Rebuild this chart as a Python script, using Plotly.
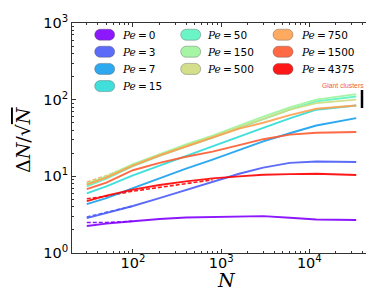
import numpy as np
import plotly.graph_objects as go

# ---------------- data ----------------
N = [30, 50, 100, 200, 400, 800, 1600, 3000, 6000, 12000, 34000]

pe_labels = ["0", "3", "7", "15", "50", "150", "500", "750", "1500", "4375"]
colors = ["#8000ff", "#4b5cf8", "#18a0ee", "#2ddcd8", "#5cf5c0",
          "#9cf59c", "#d0dc80", "#ffa050", "#ff5a30", "#ff0000"]

pe0 = [2.25, 2.42, 2.6, 2.78, 2.9, 2.96, 3.0, 3.03, 2.88, 2.74, 2.69]
pe3 = [2.85, 3.3, 4.1, 5.2, 6.6, 8.4, 10.8, 13.0, 15.0, 15.6, 15.4]
pe7 = [4.35, 5.2, 7.0, 9.5, 12.6, 16.5, 22.0, 28.5, 36.5, 46.0, 57.5]
pe15 = [6.0, 7.4, 10.3, 13.8, 18.5, 25.0, 33.0, 43.0, 57.0, 74.0, 84.0]
pe50 = [7.4, 9.3, 13.6, 18.5, 24.5, 32.0, 43.0, 56.0, 74.0, 95.0, 110.0]
pe150 = [8.0, 10.0, 14.4, 19.5, 26.0, 34.0, 46.0, 60.0, 79.0, 100.0, 118.0]
pe500 = [7.8, 9.7, 14.0, 19.0, 25.0, 33.0, 44.0, 57.0, 74.0, 90.0, 100.0]
pe750 = [7.8, 9.6, 13.8, 18.7, 24.5, 32.0, 42.0, 50.0, 63.0, 76.0, 84.0]
pe1500 = [6.8, 8.3, 12.0, 15.0, 18.0, 21.0, 25.5, 30.5, 35.0, 37.0, 37.8]
pe4375 = [4.75, 5.6, 6.7, 7.7, 8.6, 9.4, 10.0, 10.5, 10.7, 10.8, 10.4]
series = [pe0, pe3, pe7, pe15, pe50, pe150, pe500, pe750, pe1500, pe4375]

# short dashed runs (second data set at small N)
dash_N_short = [30, 50, 100]
dash_pe0 = [2.5, 2.5, 2.6]
dash_pe3 = [2.95, 3.4, 4.1]
dash_pe750 = [8.4, 10.2, 14.0]
dash_N_long = [30, 50, 100, 200, 400, 800]
dash_pe4375 = [5.1, 5.5, 6.4, 7.2, 8.0, 9.0]

x_ticks = [100, 1000, 10000]
x_ticktext = ["10<sup>2</sup>", "10<sup>3</sup>", "10<sup>4</sup>"]
y_ticks = [1, 10, 100, 1000]
y_ticktext = ["10<sup>0</sup>", "10<sup>1</sup>", "10<sup>2</sup>", "10<sup>3</sup>"]

# ---------------- figure ----------------
fig = go.Figure()

dashed = [(dash_N_short, dash_pe0, 0), (dash_N_short, dash_pe3, 1),
          (dash_N_short, dash_pe750, 7), (dash_N_long, dash_pe4375, 9)]
for xs, ys, ci in dashed:
    fig.add_trace(go.Scatter(x=xs, y=ys, mode="lines",
                             line=dict(color=colors[ci], width=1.6, dash="4px,2px"),
                             opacity=0.9, showlegend=False, hoverinfo="skip"))

for vals, col, lab in zip(series, colors, pe_labels):
    fig.add_trace(go.Scatter(x=N, y=vals, mode="lines", name="Pe=" + lab,
                             line=dict(color=col, width=1.9),
                             opacity=0.9, showlegend=False))

W, H = 374, 292
L, R, T, B = 64, 4, 15, 47
PW, PH = W - L - R, H - T - B


def px2x(px):
    return (px - L) / PW


def py2y(py):
    return (H - B - py) / PH


def pill(w, h):
    r = h / 2.0
    a = w / 2.0 - r
    k = 0.5523 * r
    return (f"M {-a},{-r} L {a},{-r} "
            f"C {a + k},{-r} {a + r},{-k} {a + r},0 "
            f"C {a + r},{k} {a + k},{r} {a},{r} "
            f"L {-a},{r} "
            f"C {-a - k},{r} {-a - r},{k} {-a - r},0 "
            f"C {-a - r},{-k} {-a - k},{-r} {-a},{-r} Z")


shapes = []
annotations = []
col_patch_x = [96.7, 182.7, 275.0]
col_text_x = [111.5, 197.0, 290.5]
row_y = [26.7, 43.7, 60.9, 78.1]
layout_idx = [(0, 0), (0, 1), (0, 2), (0, 3), (1, 0), (1, 1), (1, 2), (2, 0), (2, 1), (2, 2)]
for (c, r), col, lab in zip(layout_idx, colors, pe_labels):
    shapes.append(dict(type="path", xref="paper", yref="paper",
                       xsizemode="pixel", ysizemode="pixel",
                       xanchor=px2x(col_patch_x[c]), yanchor=py2y(row_y[r]),
                       path=pill(20, 11), fillcolor=col, opacity=0.9,
                       line=dict(color="rgba(60,60,60,0.45)", width=0.8)))
    annotations.append(dict(xref="paper", yref="paper",
                            x=px2x(col_text_x[c]), y=py2y(row_y[r]),
                            xanchor="left", yanchor="middle", showarrow=False,
                            text="<i><span style='font-family:\"DejaVu Serif\"'>Pe</span></i>"
                                 "<span style='font-family:\"DejaVu Serif\"'>\u2009=\u2009</span>" + lab,
                            font=dict(family="DejaVu Sans", size=10.5, color="black")))

# giant clusters marker
annotations.append(dict(xref="paper", yref="paper", x=px2x(313), y=py2y(77),
                        xanchor="left", yanchor="middle", showarrow=False,
                        text="Giant clusters", borderpad=0,
                        font=dict(family="Liberation Sans", size=6.8, color="#f0603a")))
shapes.append(dict(type="line", xref="paper", yref="paper",
                   x0=px2x(354), x1=px2x(354), y0=py2y(82), y1=py2y(100),
                   line=dict(color="black", width=2.5)))

# axis titles
annotations.append(dict(xref="paper", yref="paper", x=px2x(218), y=py2y(272),
                        xanchor="center", yanchor="middle", showarrow=False,
                        text="<i>N</i>",
                        font=dict(family="DejaVu Serif", size=19, color="black")))
annotations.append(dict(xref="paper", yref="paper", x=px2x(15), y=py2y(132),
                        xanchor="center", yanchor="middle", showarrow=False,
                        textangle=-90,
                        text="\u0394<i>N</i>/\u221a<span style='text-decoration:overline'><i>N</i></span>",
                        font=dict(family="DejaVu Serif", size=19, color="black")))

x_minor = [m * 10 ** e for e in range(1, 5) for m in range(2, 10) if 20 <= m * 10 ** e <= 60000]
y_minor = [m * 10 ** e for e in range(0, 3) for m in range(2, 10)]

axis_common = dict(type="log", showgrid=False, zeroline=False, showline=True,
                   linecolor="#333", linewidth=1, mirror="ticks", ticks="inside",
                   ticklen=4, tickcolor="#333",
                   tickfont=dict(family="DejaVu Sans", size=14.5, color="black"))

fig.update_layout(
    width=W, height=H,
    margin=dict(l=L, r=R, t=T, b=B),
    paper_bgcolor="white", plot_bgcolor="white",
    showlegend=False,
    xaxis=dict(range=[np.log10(20.4), np.log10(60000)], tickmode="array",
               tickvals=x_ticks, ticktext=x_ticktext, ticklabelstandoff=-3,
               minor=dict(tickmode="array", tickvals=x_minor, ticks="inside",
                          ticklen=2, tickcolor="#333", showgrid=False),
               **axis_common),
    yaxis=dict(range=[0, 3], tickmode="array", tickvals=y_ticks, ticktext=y_ticktext,
               minor=dict(tickmode="array", tickvals=y_minor, ticks="inside",
                          ticklen=2, tickcolor="#333", showgrid=False),
               **axis_common),
    shapes=shapes, annotations=annotations,
)

fig.write_html("out.html")
